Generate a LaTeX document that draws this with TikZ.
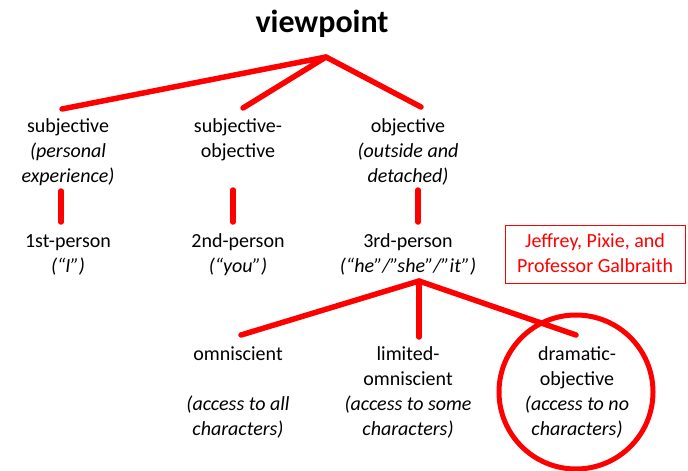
\documentclass[tikz,border=0pt]{standalone}
\usepackage{fontspec}
\setmainfont{Carlito}
\definecolor{lnred}{RGB}{255,0,0}
\begin{document}
\begin{tikzpicture}[x=1pt,y=-1pt,
  lab/.style={font=\fontsize{20}{25}\selectfont, align=center, inner sep=0pt, anchor=north},
  conn/.style={draw=lnred, line width=5.5pt, line cap=round, line join=round},
  castbox/.style={font=\fontsize{20}{25}\selectfont, align=center, color=lnred, draw=lnred,
      line width=1pt, minimum width=180pt, minimum height=58pt, inner sep=0pt}]
\useasboundingbox (0,0) rectangle (688,471);
% title
\node[font=\fontsize{32}{38}\selectfont\bfseries, inner sep=0pt, anchor=base] (vp) at (322,32) {viewpoint};
% level 1
\node[lab] (subj) at (68,114.5) {\strut subjective\\\textit{(personal}\\\textit{experience)}};
\node[lab] (subobj) at (238,114.5) {\strut subjective-\\objective};
\node[lab] (obj) at (408,114.5) {\strut objective\\\textit{(outside and}\\\textit{detached)}};
% level 2
\node[lab] (p1) at (68,229.5) {\strut 1st-person\\\textit{(“I”)}};
\node[lab] (p2) at (238,229.5) {\strut 2nd-person\\\textit{(“you”)}};
\node[lab] (p3) at (408,229.5) {\strut 3rd-person\\\textit{(“he”/”she”/”it”)}};
\node[castbox] (cast) at (595,254.5) {\strut Jeffrey, Pixie, and\\Professor Galbraith\strut};
% level 3
\node[lab] (omni) at (238,342.5) {\strut omniscient\\ \\\textit{(access to all}\\\textit{characters)}};
\node[lab] (lim) at (408,342.5) {\strut limited-\\omniscient\\\textit{(access to some}\\\textit{characters)}};
\node[lab] (dram) at (577,342.5) {\strut dramatic-\\objective\\\textit{(access to no}\\\textit{characters)}};
% connector coordinates
\coordinate (j0) at (326,57);
\coordinate (e1) at (62,109);
\coordinate (e2) at (243,108);
\coordinate (e3) at (421,107);
\coordinate (v1a) at (61,191); \coordinate (v1b) at (61,222);
\coordinate (v2a) at (233,190); \coordinate (v2b) at (233,222);
\coordinate (v3a) at (418,190); \coordinate (v3b) at (418,222);
\coordinate (j1) at (419,281);
\coordinate (f1) at (241,335);
\coordinate (f2) at (419,337);
\coordinate (f3) at (576,335);
% connectors
\draw[conn] (e1) -- (j0) -- (e2);
\draw[conn] (j0) -- (e3);
\draw[conn] (v1a) -- (v1b);
\draw[conn] (v2a) -- (v2b);
\draw[conn] (v3a) -- (v3b);
\draw[conn] (f1) -- (j1) -- (f3);
\draw[conn] (j1) -- (f2);
% highlight ellipse
\draw[lnred, line width=5pt] (576,392) ellipse [x radius=77pt, y radius=77pt];
\end{tikzpicture}
\end{document}
